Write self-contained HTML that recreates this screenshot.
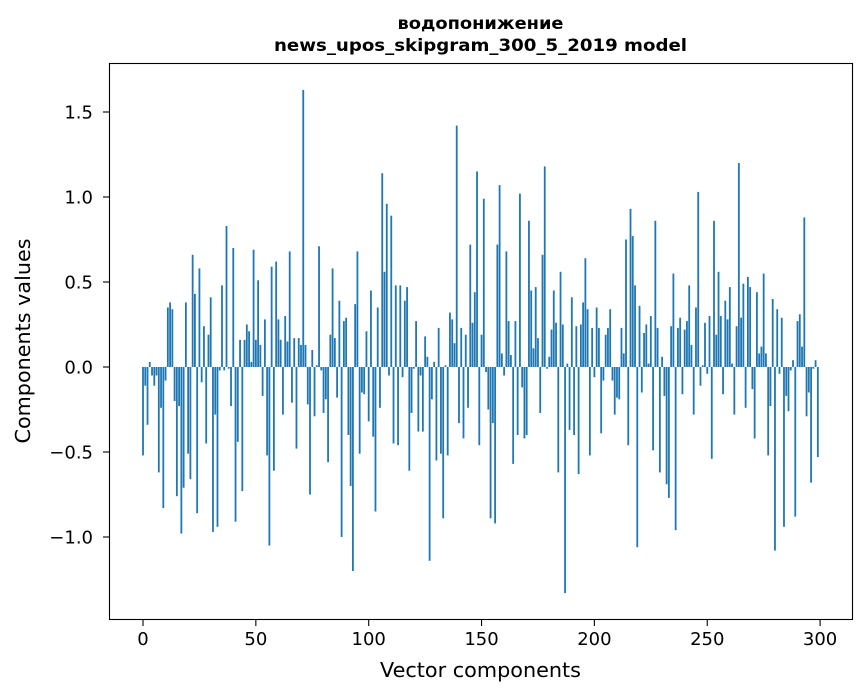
<!DOCTYPE html>
<html><head><meta charset="utf-8">
<style>
html,body{margin:0;padding:0;background:#fff;}
svg{display:block;font-family:"DejaVu Sans","Liberation Sans",sans-serif;}
</style></head>
<body>
<svg id="chart" width="867" height="696" viewBox="0 0 867 696">
<rect x="0" y="0" width="867" height="696" fill="#fff"/>
<text x="480.5" y="29" text-anchor="middle" font-size="17" font-weight="bold" textLength="166" lengthAdjust="spacingAndGlyphs">водопонижение</text>
<text x="480.5" y="51" text-anchor="middle" font-size="17" font-weight="bold" textLength="413" lengthAdjust="spacingAndGlyphs">news_upos_skipgram_300_5_2019 model</text>
<g id="bars"></g>
<g id="xticks"></g>
<g id="yticks"></g>
<rect x="109.5" y="63.5" width="743" height="556" fill="none" stroke="#000" stroke-width="1.1"/>
<text x="480.5" y="677" text-anchor="middle" font-size="20" textLength="201" lengthAdjust="spacingAndGlyphs">Vector components</text>
<text transform="translate(30,341) rotate(-90)" text-anchor="middle" font-size="20" textLength="205" lengthAdjust="spacingAndGlyphs">Components values</text>
</svg>
<script>
const values = [
-0.52,-0.11,-0.34,0.03,-0.05,-0.11,-0.05,-0.62,-0.24,-0.83,
-0.08,0.35,0.38,0.34,-0.20,-0.76,-0.23,-0.98,-0.71,0.38,
-0.51,-0.66,0.66,0.43,-0.86,0.58,-0.09,0.24,-0.45,0.19,
0.41,-0.97,-0.28,-0.94,-0.02,0.48,-0.02,0.83,-0.01,-0.23,
0.70,-0.91,-0.44,0.16,-0.73,0.16,0.25,0.21,0.03,0.69,
0.16,0.51,0.13,-0.17,0.28,-0.52,-1.05,0.59,-0.61,0.62,
0.28,0.16,-0.28,0.30,0.15,0.68,-0.21,0.17,-0.48,0.17,
0.13,1.63,0.13,-0.22,-0.75,0.10,-0.29,0.01,0.71,-0.02,
-0.27,-0.19,-0.56,0.19,0.58,0.17,-0.18,0.39,-1.00,0.27,
0.29,-0.40,-0.70,-1.20,0.37,0.68,-0.51,-0.15,-0.16,0.21,
-0.32,0.45,-0.41,-0.85,0.35,-0.24,1.14,0.56,0.96,-0.05,
0.89,-0.45,0.48,-0.46,0.48,-0.06,0.39,0.47,-0.61,-0.27,
-0.01,0.27,-0.38,-0.05,-0.38,0.18,0.06,-1.14,-0.19,0.03,
-0.55,0.23,-0.51,-0.89,0.01,-0.52,0.32,0.28,0.14,1.42,
-0.33,0.23,-0.42,0.19,-0.24,0.72,0.26,0.44,1.15,-0.46,
0.19,0.99,-0.03,-0.25,-0.89,-0.33,-0.92,0.72,1.07,0.08,
-0.05,0.68,0.27,0.07,-0.57,0.27,-0.40,1.02,-0.12,-0.42,
-0.40,0.86,0.45,0.11,0.47,0.17,-0.27,0.66,1.18,-0.01,
0.06,0.22,0.45,0.26,-0.62,0.56,0.25,-1.33,0.02,-0.37,
0.41,-0.40,0.24,-0.63,0.25,0.38,0.64,0.34,-0.52,0.23,
-0.06,0.35,0.23,-0.39,-0.08,0.19,0.23,0.34,-0.08,-0.28,
-0.18,-0.19,0.23,0.08,0.75,-0.46,0.93,0.77,0.48,-1.06,
0.36,-0.15,0.20,0.25,0.02,0.30,-0.49,0.86,0.23,-0.62,
0.06,-0.17,-0.69,-0.77,0.24,0.55,-0.96,0.23,0.29,-0.16,
0.22,0.27,0.48,0.13,-0.28,0.35,1.03,-0.11,0.01,0.26,
-0.04,0.30,-0.54,0.86,0.19,0.56,0.30,-0.16,0.39,0.28,
0.47,0.02,-0.28,0.24,1.20,0.29,0.49,-0.24,0.53,0.47,
-0.13,-0.42,0.44,0.08,0.12,0.55,0.08,-0.52,-0.23,0.40,
-1.08,0.34,-0.04,0.29,-0.94,-0.17,-0.26,-0.02,0.04,-0.88,
0.27,0.31,0.12,0.88,-0.29,-0.15,-0.68,-0.01,0.04,-0.53
];
const xTickValues = [0,50,100,150,200,250,300];
const yTickValues = [-1.0,-0.5,0.0,0.5,1.0,1.5];
const yTickLabels = ["\u22121.0","\u22120.5","0.0","0.5","1.0","1.5"];

const NS = "http://www.w3.org/2000/svg";
const X0 = 143, XS = 2.257, Y0 = 367, YS = 170;
function xScale(v){ return X0 + v*XS; }
function yScale(v){ return Y0 - v*YS; }

const barsG = document.getElementById('bars');
values.forEach((v,i)=>{
  const r = document.createElementNS(NS,'rect');
  const w = 0.8*XS;
  r.setAttribute('x', xScale(i) - w/2);
  r.setAttribute('width', w);
  r.setAttribute('y', Math.min(yScale(v), yScale(0)));
  r.setAttribute('height', Math.max(Math.abs(yScale(v)-yScale(0)),0.3));
  r.setAttribute('fill','#1f77b4');
  
  
  barsG.appendChild(r);
});

const xg = document.getElementById('xticks');
xTickValues.forEach(v=>{
  const x = xScale(v);
  const l = document.createElementNS(NS,'line');
  l.setAttribute('x1',x); l.setAttribute('x2',x);
  l.setAttribute('y1',619.5); l.setAttribute('y2',626);
  l.setAttribute('stroke','#000'); l.setAttribute('stroke-width','1.1');
  
  
  xg.appendChild(l);
  const t = document.createElementNS(NS,'text');
  t.setAttribute('x',x); t.setAttribute('y',645);
  t.setAttribute('text-anchor','middle'); t.setAttribute('font-size','18');
  t.textContent = String(v);
  
  
  xg.appendChild(t);
});

const yg = document.getElementById('yticks');
yTickValues.forEach((v,i)=>{
  const y = yScale(v);
  const l = document.createElementNS(NS,'line');
  l.setAttribute('x1',103); l.setAttribute('x2',109.5);
  l.setAttribute('y1',y); l.setAttribute('y2',y);
  l.setAttribute('stroke','#000'); l.setAttribute('stroke-width','1.1');
  
  
  yg.appendChild(l);
  const t = document.createElementNS(NS,'text');
  t.setAttribute('x',93); t.setAttribute('y',y+6.5);
  t.setAttribute('text-anchor','end'); t.setAttribute('font-size','18');
  t.textContent = yTickLabels[i];
  
  
  yg.appendChild(t);
});
</script>
</body></html>
